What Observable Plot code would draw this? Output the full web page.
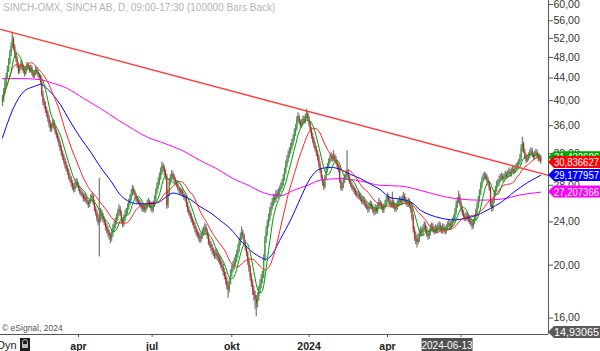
<!DOCTYPE html>
<html><head><meta charset="utf-8">
<script src="https://cdn.jsdelivr.net/npm/d3@7"></script>
<script src="https://cdn.jsdelivr.net/npm/@observablehq/plot@0.6"></script>
<style>body{margin:0;background:#fff;overflow:hidden} svg{display:block}</style>
</head><body><script>
const title = "SINCH-OMX, SINCH AB, D, 09:00-17:30 (100000 Bars Back)";
const firstOpen = 39.5;
const closes = [
40.2,41.5,43.0,44.2,45.5,47.0,48.8,50.2,51.8,50.0,
48.6,47.5,46.4,45.2,45.9,46.6,45.8,45.3,44.8,45.6,
46.4,46.0,45.3,45.9,44.9,44.3,44.8,45.5,45.0,44.5,
44.1,43.2,41.0,39.8,39.2,38.4,37.9,37.0,36.2,35.5,
35.9,36.4,35.7,35.0,34.6,34.0,33.3,32.7,32.0,31.5,
31.0,30.4,30.0,29.6,29.0,28.7,28.2,27.8,27.5,27.9,
28.3,28.0,27.6,27.2,27.0,26.8,26.4,26.6,26.2,26.0,
25.8,26.1,26.5,26.7,26.0,25.3,24.9,24.3,23.9,24.2,
24.9,24.6,24.2,23.9,23.5,23.2,22.9,22.6,22.4,22.8,
23.3,23.6,24.0,24.4,24.9,25.3,24.8,24.1,23.8,24.3,
24.8,25.0,25.5,26.0,26.5,27.0,27.5,27.2,26.8,26.4,
26.2,26.0,25.8,25.6,25.3,25.5,25.2,25.6,25.9,26.1,
25.7,25.4,25.3,25.8,26.4,27.2,27.9,28.4,29.0,29.6,
30.3,30.0,29.5,29.0,25.7,27.0,28.4,28.8,29.3,29.0,
28.6,28.3,28.0,27.6,27.4,27.1,27.3,26.9,26.6,26.5,
25.8,25.2,24.9,24.6,24.2,23.9,23.6,23.2,22.9,22.7,
22.5,22.3,22.6,22.9,23.1,23.4,23.0,22.6,22.0,21.8,
21.5,21.2,21.0,20.8,21.0,20.7,20.5,20.3,20.0,19.8,
19.4,19.1,18.7,18.3,18.0,18.6,19.3,19.7,19.9,20.2,
20.5,20.9,21.4,22.0,22.5,22.9,22.6,22.0,21.5,21.0,
20.3,19.7,19.0,18.5,18.0,17.6,17.3,17.0,17.5,18.0,
18.4,18.8,19.1,20.6,22.2,23.0,23.8,24.3,25.0,25.5,
26.0,26.5,26.3,27.0,26.8,27.2,27.5,27.8,28.2,28.8,
29.6,30.5,31.2,31.8,32.2,32.8,33.4,34.0,34.8,35.5,
36.8,37.3,36.5,36.0,36.4,37.0,36.6,37.2,37.8,37.0,
36.2,35.3,34.4,33.8,33.1,32.6,32.0,31.4,30.5,29.8,
28.9,28.2,27.8,28.9,29.8,30.3,30.9,31.2,31.5,31.3,
31.6,31.2,30.8,30.3,29.8,28.5,27.6,27.9,28.5,28.9,
29.2,29.5,28.9,28.4,28.0,27.7,27.5,27.3,27.0,26.8,
26.9,26.6,26.4,26.1,26.3,25.9,25.7,25.5,25.3,25.6,
25.8,25.5,25.2,25.0,25.4,25.1,25.6,26.0,25.8,25.5,
25.2,25.6,25.9,26.3,26.6,26.2,25.9,25.7,26.0,25.6,
25.3,25.5,25.8,26.0,26.3,26.0,26.4,26.7,26.3,26.0,
25.8,26.1,25.7,25.2,24.4,23.2,22.5,22.3,22.0,22.4,
22.8,23.1,22.9,23.3,23.6,23.2,22.8,22.6,22.9,23.3,
23.5,23.2,23.0,23.3,23.1,23.4,23.6,23.3,23.1,23.4,
23.2,23.0,23.3,23.6,23.8,23.5,23.7,24.0,24.3,25.0,
25.8,26.2,26.6,25.9,25.3,24.9,24.5,24.3,24.6,24.4,
24.2,24.0,23.8,23.6,24.0,24.4,24.9,25.6,26.3,27.1,
27.9,28.6,28.9,29.1,29.0,28.6,28.2,27.6,25.8,25.4,
26.2,27.0,27.5,28.0,28.2,28.6,28.8,29.0,28.7,29.0,
29.2,29.0,29.4,29.6,29.3,29.7,29.9,29.6,30.0,30.2,
30.5,30.8,31.4,32.6,33.3,32.2,31.5,31.0,31.3,31.6,
32.0,32.3,31.8,31.5,31.9,32.1,31.6,31.2,31.4,30.9];
const highs = [
40.9,42.1,43.8,44.9,46.3,47.8,49.5,51.0,53.4,52.3,
50.6,49.2,48.1,46.9,46.5,47.3,47.0,46.3,45.9,46.2,
47.0,46.9,46.4,46.5,46.3,45.4,45.3,46.1,45.9,45.4,
44.9,44.5,43.6,41.6,40.3,39.8,38.9,38.3,37.5,36.7,
36.4,37.0,36.8,36.0,35.4,34.9,34.3,33.7,33.1,32.4,
31.9,31.4,30.9,30.4,30.0,29.4,29.1,28.6,28.2,28.4,
28.8,28.7,28.3,27.9,27.5,27.3,27.1,27.0,26.9,26.6,
26.3,26.4,26.9,27.1,27.0,26.3,25.6,25.2,24.7,28.8,
25.4,25.2,24.9,24.5,24.2,23.8,23.5,23.2,22.9,23.2,
23.7,24.0,24.4,24.8,25.3,25.8,25.6,25.1,24.4,24.7,
25.2,25.4,25.9,26.4,26.9,27.5,28.0,27.8,27.4,27.0,
26.7,26.5,26.3,26.1,25.9,25.9,25.8,25.9,26.3,26.5,
26.3,26.0,25.8,26.2,26.8,27.6,28.3,28.9,29.5,30.1,
30.9,30.7,30.4,29.9,29.3,27.5,28.8,29.3,29.8,29.6,
29.3,28.9,28.6,28.3,27.9,27.7,27.6,27.5,27.1,26.9,
26.8,26.1,25.6,25.2,24.9,24.5,24.2,23.9,23.5,23.2,
23.0,22.8,22.9,23.3,23.5,23.8,23.7,23.3,22.9,22.3,
22.1,21.8,21.5,21.3,21.4,21.3,21.0,20.8,20.6,20.3,
20.1,19.7,19.4,19.0,18.6,18.9,19.6,20.0,20.3,20.6,
20.9,21.3,21.8,22.4,22.9,23.5,23.2,22.8,22.2,21.7,
21.2,20.6,20.0,19.3,18.8,18.3,17.9,17.6,17.8,18.3,
18.8,19.2,19.5,20.9,22.6,23.5,24.2,24.8,25.5,26.0,
26.5,27.0,26.9,27.4,27.4,27.6,27.9,28.3,28.7,29.3,
30.1,31.0,31.7,32.4,32.8,33.4,34.0,34.6,35.5,36.2,
37.4,38.0,37.6,36.9,36.9,37.5,37.4,37.8,38.6,38.2,
37.4,36.6,35.7,34.9,34.2,33.5,33.0,32.4,31.8,30.9,
30.1,29.2,28.6,29.2,30.2,30.7,31.3,31.7,32.1,31.9,
32.4,31.9,31.6,31.1,30.6,30.1,28.8,28.3,28.9,29.3,
29.6,32.4,29.9,29.2,28.7,28.3,28.0,27.8,27.6,27.3,
27.3,27.2,26.9,26.7,26.7,26.6,26.2,26.0,25.8,26.0,
26.2,26.1,25.8,25.5,25.8,25.7,26.0,26.5,26.3,26.1,
25.8,25.9,26.3,26.7,27.1,26.9,26.5,26.2,27.2,26.3,
25.9,25.9,26.2,26.4,26.7,26.6,26.8,27.2,27.0,26.6,
26.3,26.5,26.4,26.0,25.5,24.7,23.5,23.0,22.7,22.8,
23.2,23.5,23.4,23.7,24.0,23.9,23.5,23.1,23.3,23.7,
23.9,23.8,23.5,23.7,23.6,23.8,24.0,23.9,23.6,23.8,
23.7,23.5,23.7,24.0,24.2,24.1,24.1,24.4,24.7,25.4,
26.2,26.6,27.3,26.9,26.2,25.6,25.2,24.8,25.0,24.9,
24.7,24.5,24.3,24.1,24.3,24.7,25.3,26.0,26.7,27.5,
28.3,29.0,29.4,29.6,29.5,29.3,28.9,28.4,27.8,26.3,
26.6,27.4,27.9,28.5,28.7,29.1,29.3,29.5,29.3,29.4,
29.7,29.6,29.8,30.1,29.9,30.1,30.4,30.2,30.4,30.7,
30.9,31.2,31.9,33.2,34.3,33.6,32.6,31.9,31.7,32.1,
32.5,32.8,32.7,32.1,32.3,32.6,32.5,32.0,31.9,31.7];
const lows = [
39.0,39.7,41.0,42.5,43.7,45.0,46.5,48.2,49.7,49.3,
48.0,47.0,45.8,44.6,44.8,45.5,45.3,44.8,44.2,44.5,
45.2,45.6,44.9,45.0,44.4,43.9,43.9,44.4,44.6,44.0,
43.7,42.8,40.6,39.2,38.6,37.9,37.3,36.5,35.7,35.0,
35.0,35.5,35.3,34.6,34.1,33.6,32.9,32.3,31.6,31.1,
30.6,30.0,29.6,29.2,28.6,28.3,27.8,27.4,27.1,27.2,
27.6,27.7,27.3,26.9,26.7,26.5,26.1,26.1,25.9,25.7,
25.4,25.5,25.9,26.3,25.7,25.0,24.6,24.0,23.6,20.7,
23.9,24.2,23.9,23.6,23.1,22.8,22.5,22.2,21.9,22.1,
22.5,23.0,23.3,23.7,24.1,24.6,24.5,23.8,23.4,23.5,
24.0,24.5,24.7,25.2,25.7,26.2,26.7,26.9,26.4,26.0,
25.9,25.8,25.5,25.3,25.0,25.0,24.9,25.0,25.3,25.6,
25.4,25.1,24.9,25.0,25.5,26.1,26.9,27.5,28.0,28.6,
29.2,29.6,29.1,28.6,25.3,25.4,26.7,28.0,28.5,28.6,
28.3,28.0,27.7,27.3,27.0,26.8,26.9,26.6,26.3,26.1,
25.5,24.9,24.6,24.3,23.9,23.6,23.3,22.9,22.6,22.4,
22.1,21.9,22.0,22.3,22.6,22.8,22.7,22.3,21.7,21.5,
21.2,20.9,20.7,20.5,20.5,20.4,20.2,20.0,19.7,19.5,
19.1,18.8,18.4,18.0,17.4,17.8,18.4,19.0,19.4,19.6,
19.9,20.2,20.6,21.1,21.7,22.2,22.3,21.8,21.2,20.7,
20.0,19.4,18.7,18.2,17.6,17.2,16.6,16.1,16.7,17.2,
17.7,18.1,18.5,18.9,20.3,21.9,22.6,23.4,24.0,24.6,
25.2,25.6,25.9,26.0,26.4,26.5,26.8,27.2,27.5,27.9,
28.5,29.3,30.1,30.8,31.4,31.9,32.5,33.0,33.7,34.4,
35.2,36.3,36.1,35.6,35.7,36.1,36.2,36.3,36.9,36.6,
35.8,34.9,34.0,33.4,32.7,32.2,31.6,31.0,30.1,29.4,
28.6,27.9,27.4,27.6,28.6,29.5,30.0,30.6,30.9,30.9,
31.0,31.0,30.5,30.0,29.5,28.2,27.3,27.3,27.6,28.2,
28.6,28.9,28.6,28.1,27.7,27.4,27.2,26.9,26.7,26.5,
26.4,26.3,26.1,25.8,25.8,25.6,25.4,25.2,24.9,25.0,
25.3,25.2,24.9,24.6,24.7,24.8,24.8,25.3,25.5,25.2,
24.9,24.9,25.3,25.6,26.0,25.9,25.6,25.4,25.4,25.3,
25.0,25.0,25.2,25.5,25.7,25.7,25.8,26.1,26.0,25.7,
25.5,25.5,25.4,24.9,24.1,22.9,22.1,21.8,21.5,21.8,
22.0,22.5,22.6,22.6,23.0,22.9,22.5,22.2,22.3,22.6,
23.0,22.9,22.7,22.8,22.8,22.9,23.1,23.0,22.8,22.8,
22.9,22.7,22.8,23.1,23.4,23.2,23.2,23.5,23.8,24.1,
24.7,25.4,25.9,25.6,25.0,24.6,24.2,24.0,24.0,24.1,
23.9,23.7,23.5,23.2,23.3,23.7,24.1,24.6,25.3,26.0,
26.8,27.6,28.3,28.6,28.6,28.3,27.9,27.3,25.5,25.0,
25.1,25.9,26.7,27.2,27.7,27.9,28.3,28.5,28.4,28.4,
28.7,28.7,28.8,29.1,29.0,29.0,29.4,29.3,29.4,29.7,
29.9,30.2,30.5,31.0,32.2,32.0,31.2,30.7,30.8,31.0,
31.3,31.7,31.5,31.1,31.2,31.6,31.3,30.9,30.9,30.6];
// long moving averages (bar index / price)
const blueIdx = [0,9,17,25,31,39,47,55,64,72,80,88,96,104,110,118,126,133,139,145,153,161,170,178,186,194,202,210,215,219,227,235,243,250,259,268,276,284,292,303,308,316,325,333,341,349,357,368,379,387,398,406,417,428,439];
const bluePx = [34.2,38.8,41.5,42.4,42.8,41.5,39.4,36.7,34.1,32.2,30.2,28.6,26.9,26.1,25.9,25.9,26.0,26.6,27.1,26.9,26.4,25.6,24.9,24.1,23.3,22.2,21.3,20.7,20.5,20.8,22.4,24.2,26.5,28.6,30.0,30.2,29.9,29.3,28.8,27.9,27.5,26.6,26.4,26.1,25.2,24.7,24.4,24.2,24.4,24.7,25.4,26.0,27.2,28.3,29.2];
const magIdx = [0,15,31,39,53,66,80,94,107,118,129,148,161,175,188,202,210,219,227,237,249,259,276,292,308,325,341,357,374,390,406,423,439];
const magPx = [43.9,43.9,43.7,43.2,42.1,40.4,38.7,36.9,35.4,34.3,33.6,32.3,31.1,30.0,28.8,27.9,27.3,26.9,26.8,27.4,28.0,28.6,28.8,28.5,28.0,27.9,27.4,26.8,26.4,26.3,26.4,26.9,27.2];
const trendIdx = [-1.63, 445.3];
const trendPx = [54.0, 29.2];
const xDomain = [-1.63, 445.3];
const yDomain = [14.93065, 61.0];
const yTicks = [16,20,24,28,32,36,40,44,48,52,56,60];
const xTickIdx = [62,122,187,250,314,374];
const xTickLabels = ["apr","jul","okt","2024","apr",""];
const lastValues = [31.432686, 30.836627, 29.177957, 27.207366];
const lastTexts = ["31,432686","30,836627","29,177957","27,207366"];
const dateIdx = 363, dateText = "2024-06-13";
const copyright = "© eSignal, 2024";

const bars = closes.map((c, i) => {
  const o = i ? closes[i - 1] : firstOpen;
  return {i, open: o, close: c, high: Math.max(highs[i], o, c), low: Math.min(lows[i], o, c)};
});
const blue = blueIdx.map((i, k) => ({i, v: bluePx[k]}));
const mag = magIdx.map((i, k) => ({i, v: magPx[k]}));
const trend = trendIdx.map((i, k) => ({i, v: trendPx[k]}));
const labelMap = new Map(xTickIdx.map((d, k) => [d, xTickLabels[k]]));
const FONT = "'Liberation Sans', Arial, sans-serif";

const plot = Plot.plot({
  width: 600, height: 351,
  marginLeft: 0, marginRight: 52, marginTop: 0, marginBottom: 17,
  style: {fontFamily: FONT, fontSize: "10.5px", background: "#fff", overflow: "visible"},
  x: {domain: xDomain, axis: null},
  y: {type: "log", domain: yDomain, axis: null},
  marks: [
    Plot.ruleX(bars, {x: "i", y1: "low", y2: "high", stroke: "#7e7e7e", strokeWidth: 1.3}),
    Plot.ruleX(bars.filter(d => d.close >= d.open), {x: "i", y1: "open", y2: "close", stroke: "#00c000", strokeWidth: 0.9}),
    Plot.ruleX(bars.filter(d => d.close < d.open), {x: "i", y1: "open", y2: "close", stroke: "#e80000", strokeWidth: 0.9}),
    Plot.line(mag, {x: "i", y: "v", stroke: "#ff00ff", strokeWidth: 1, curve: "monotone-x"}),
    Plot.line(blue, {x: "i", y: "v", stroke: "#0000ff", strokeWidth: 1, curve: "monotone-x"}),
    Plot.lineY(bars, Plot.windowY({k: 20, anchor: "end", reduce: "mean"}, {x: "i", y: "close", stroke: "#ff2020", strokeWidth: 1})),
    Plot.lineY(bars, Plot.windowY({k: 8, anchor: "end", reduce: "mean"}, {x: "i", y: "close", stroke: "#009c00", strokeWidth: 1})),
    Plot.line(trend, {x: "i", y: "v", stroke: "#ff3a3a", strokeWidth: 1.4}),
    Plot.ruleY([yDomain[0]], {stroke: "#555"}),
    Plot.ruleX([xDomain[1]], {stroke: "#555"}),
    Plot.axisY({anchor: "right", label: null, ticks: yTicks, tickFormat: d => d.toFixed(2).replace(".", ","), tickSize: 4, tickPadding: 1, fill: "#333", stroke: "#555"}),
    Plot.axisX({anchor: "bottom", label: null, ticks: xTickIdx, tickFormat: d => labelMap.get(d), tickSize: 3, tickPadding: 5, fontWeight: "bold", fill: "#222", stroke: "#555", fontSize: 10.5})
  ]
});
document.body.appendChild(plot);

const svg = d3.select(plot);
const ys = plot.scale("y"), xs = plot.scale("x");
const xr = xs.apply(xDomain[1]);
const g = svg.append("g").attr("font-family", FONT).attr("text-anchor", "start");

function valueBox(yc, txt, col) {
  g.append("polygon")
    .attr("points", [[xr, yc], [xr + 6, yc - 6], [600, yc - 6], [600, yc + 6], [xr + 6, yc + 6]].map(p => p.join(",")).join(" "))
    .attr("fill", col);
  g.append("text").attr("x", xr + 6).attr("y", yc + 4).attr("fill", "#fff").attr("font-size", 10.5)
    .attr("textLength", 45).attr("lengthAdjust", "spacingAndGlyphs").text(txt);
}
const boxCols = ["#00a800", "#ff0000", "#0000ff", "#ff00ff"];
lastValues.forEach((v, k) => valueBox(ys.apply(v), lastTexts[k], boxCols[k]));
valueBox(ys.apply(yDomain[0]) - 2, String(yDomain[0]).replace(".", ","), "#5a5a5a");

g.append("text").attr("x", 3).attr("y", 11).attr("fill", "#b4b4b4").attr("font-size", 10).text(title);
g.append("text").attr("x", 2).attr("y", 331).attr("fill", "#555").attr("font-size", 8.5).text(copyright);

// bottom-left controls
g.append("text").attr("x", -3).attr("y", 349).attr("fill", "#222").attr("font-size", 11).text("Dyn");
g.append("rect").attr("x", 20).attr("y", 338).attr("width", 10).attr("height", 13).attr("fill", "#1e1e1e");
g.append("path").attr("d", "M22.5,344 v-2 a2.5,2.5 0 0 1 5,0 v2").attr("fill", "none").attr("stroke", "#bbb").attr("stroke-width", 1);
g.append("rect").attr("x", 22).attr("y", 344).attr("width", 6).attr("height", 4).attr("fill", "#bbb");

// highlighted date on the time axis
const dx = xs.apply(dateIdx);
g.append("rect").attr("x", dx - 25.5).attr("y", 338).attr("width", 51).attr("height", 13).attr("fill", "#505050");
g.append("text").attr("x", dx).attr("y", 348.5).attr("text-anchor", "middle").attr("fill", "#fff").attr("font-size", 10).text(dateText);
</script></body></html>
